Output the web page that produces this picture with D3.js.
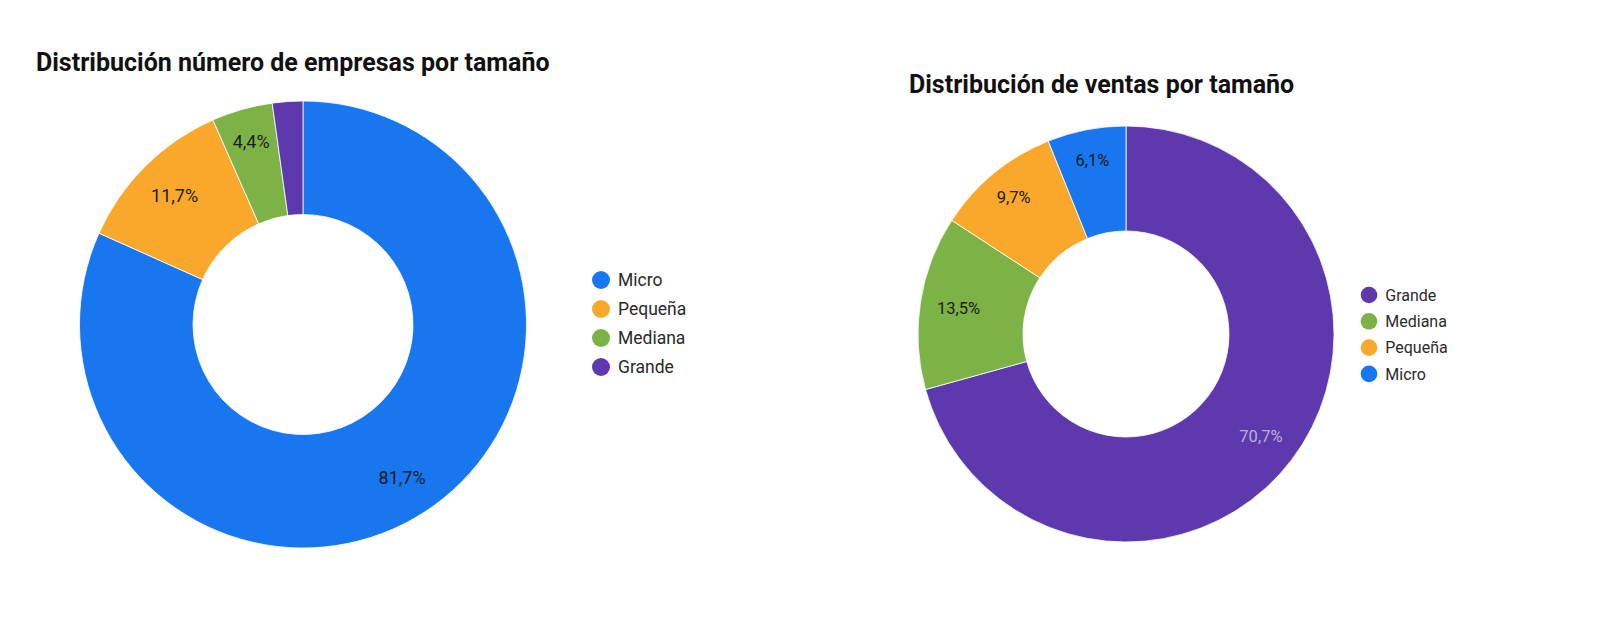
<!DOCTYPE html>
<html>
<head>
<meta charset="utf-8">
<script src="https://cdn.jsdelivr.net/npm/d3@7"></script>
<style>
  body { margin: 0; background: #fff; }
  svg { font-family: Roboto, "Noto Sans", sans-serif; }
</style>
</head>
<body>
<svg width="1600" height="634"></svg>
<script>
// data
const empresasCategorias = ["Micro", "Pequeña", "Mediana", "Grande"];
const empresasValores = [81.7, 11.7, 4.4, 2.2];

const ventasCategorias = ["Grande", "Mediana", "Pequeña", "Micro"];
const ventasValores = [70.7, 13.5, 9.7, 6.1];

const colorScale = d3.scaleOrdinal()
    .domain(["Micro", "Pequeña", "Mediana", "Grande"])
    .range(["#1877ef", "#faa82b", "#7cb246", "#5e39ae"]);

const svg = d3.select("svg");

function donut(cfg) {
    const data = cfg.cats.map((c, i) => ({ cat: c, value: cfg.vals[i] }));

    svg.append("text")
        .attr("x", cfg.titleX).attr("y", cfg.titleY)
        .attr("font-size", 25).attr("font-weight", 700).attr("fill", "#111")
        .text(cfg.title);

    const pie = d3.pie().sort(null).value(d => d.value);
    const arc = d3.arc().innerRadius(cfg.r0).outerRadius(cfg.r1);
    // narrow slices get their label pushed a bit further out
    const labelPos = d => {
        const r = cfg.r1 * (d.data.value < 10 ? 0.85 : 0.815);
        return d3.arc().innerRadius(r).outerRadius(r).centroid(d);
    };

    const g = svg.append("g").attr("transform", `translate(${cfg.cx},${cfg.cy})`);
    const arcs = pie(data);

    g.selectAll("path").data(arcs).enter()
        .append("path")
        .attr("d", arc)
        .attr("fill", d => colorScale(d.data.cat))
        .attr("stroke", "#fff").attr("stroke-width", 0.8);

    g.selectAll("text").data(arcs.filter(d => d.data.value >= 4)).enter()
        .append("text")
        .attr("transform", d => `translate(${labelPos(d)})`)
        .attr("text-anchor", "middle").attr("dy", "0.35em")
        .attr("font-size", cfg.labelSize)
        .attr("fill", d => d.data.cat === "Grande" ? "#b9aedb" : "#1c1c1c")
        .text(d => d3.format(".1f")(d.data.value).replace(".", ",") + "%");

    const leg = svg.append("g").attr("transform", `translate(${cfg.legX},${cfg.legY})`);
    const items = leg.selectAll("g").data(cfg.cats).enter()
        .append("g").attr("transform", (d, i) => `translate(0,${i * cfg.legStep})`);
    items.append("circle").attr("r", cfg.dotR).attr("fill", d => colorScale(d));
    items.append("text").attr("x", cfg.dotR + 8).attr("dy", "0.35em")
        .attr("font-size", cfg.legSize).attr("fill", "#2a2a2a").text(d => d);
}

donut({
    title: "Distribución número de empresas por tamaño",
    titleX: 36, titleY: 71,
    cats: empresasCategorias, vals: empresasValores,
    cx: 303, cy: 324.5, r0: 110, r1: 223.5,
    labelSize: 18,
    legX: 601, legY: 280, legStep: 29, dotR: 9, legSize: 17.5
});

donut({
    title: "Distribución de ventas por tamaño",
    titleX: 909, titleY: 93,
    cats: ventasCategorias, vals: ventasValores,
    cx: 1126, cy: 334, r0: 103, r1: 208,
    labelSize: 16.5,
    legX: 1369, legY: 295, legStep: 26.3, dotR: 8.3, legSize: 16
});
</script>
</body>
</html>
